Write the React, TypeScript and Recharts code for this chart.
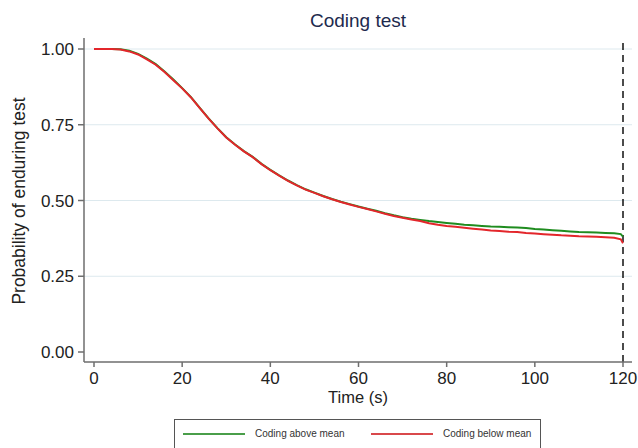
import React from "react";
import { LineChart, Line, XAxis, YAxis, ReferenceLine, Legend } from "recharts";

// Kaplan–Meier style survival estimates (time in seconds)
const timePoints = [
  0, 2, 4, 6, 8, 10, 12, 14, 16, 18, 20, 22, 24, 26, 28, 30, 32, 34, 36, 38,
  40, 42, 44, 46, 48, 50, 52, 54, 56, 58, 60, 62, 64, 66, 68, 70, 72, 74, 76, 78,
  80, 82, 84, 86, 88, 90, 92, 94, 96, 98, 100, 102, 104, 106, 108, 110, 112, 114, 116, 118,
  119.5, 120,
];

const codingAboveMean = [
  1.0, 1.0, 1.0, 0.999, 0.994, 0.984, 0.968, 0.95, 0.926, 0.899, 0.871, 0.841, 0.806, 0.771, 0.739, 0.709, 0.685, 0.663, 0.644, 0.621,
  0.601, 0.583, 0.566, 0.551, 0.537, 0.526, 0.515, 0.505, 0.496, 0.488, 0.48, 0.473, 0.466, 0.458, 0.451, 0.445, 0.44, 0.436, 0.432, 0.429,
  0.426, 0.423, 0.42, 0.418, 0.416, 0.414, 0.413, 0.412, 0.411, 0.409, 0.406, 0.404, 0.402, 0.4, 0.398, 0.396, 0.395, 0.394, 0.393, 0.392,
  0.389, 0.381,
];

const codingBelowMean = [
  1.0, 1.0, 1.0, 0.998, 0.992, 0.982, 0.966, 0.948, 0.924, 0.897, 0.87, 0.84, 0.805, 0.77, 0.738, 0.708, 0.684, 0.662, 0.643, 0.62,
  0.6, 0.582, 0.565, 0.55, 0.536, 0.525, 0.514, 0.504, 0.495, 0.487, 0.479, 0.472, 0.464, 0.456, 0.449, 0.443, 0.437, 0.432, 0.425, 0.42,
  0.416, 0.413, 0.41, 0.407, 0.404, 0.401, 0.399, 0.397, 0.396, 0.393, 0.391, 0.389, 0.387, 0.385, 0.384, 0.382, 0.381, 0.38, 0.379, 0.377,
  0.372, 0.359,
];

const xTicks = [0, 20, 40, 60, 80, 100, 120];
const yTicks = [0, 0.25, 0.5, 0.75, 1];
const gridValues = [0.25, 0.5, 0.75, 1];

const data = timePoints.map((t, i) => ({
  t,
  above: codingAboveMean[i],
  below: codingBelowMean[i],
}));

const FONT = "'Liberation Sans', Arial, Helvetica, sans-serif";
const GREEN = "#1f8c1f";
const RED = "#e3262b";
const AXIS = "#6e6e6e";

// Legend panel: open at the bottom, it continues past the figure edge
const LegendBox = () => (
  <div
    style={{
      boxSizing: "border-box",
      width: 367,
      height: 29,
      borderTop: "1px solid #555",
      borderLeft: "1px solid #555",
      borderRight: "1px solid #555",
      background: "#fff",
      fontFamily: FONT,
      fontSize: 10,
      color: "#333",
      position: "relative",
    }}
  >
    <div style={{ position: "absolute", left: 8, top: 13, width: 62, height: 2, background: "#4a9e4a" }} />
    <div style={{ position: "absolute", left: 80, top: 8, whiteSpace: "nowrap" }}>Coding above mean</div>
    <div style={{ position: "absolute", left: 196, top: 13, width: 62, height: 2, background: "#d9484b" }} />
    <div style={{ position: "absolute", left: 268, top: 8, whiteSpace: "nowrap" }}>Coding below mean</div>
  </div>
);

export default function App() {
  return (
    <div style={{ position: "absolute", left: 0, top: 0, width: 638, height: 448, background: "#fff", overflow: "hidden" }}>
      <LineChart
        width={638}
        height={448}
        data={data}
        margin={{ top: 38, right: 6, bottom: 56, left: 14 }}
      >
        {gridValues.map((v) => (
          <ReferenceLine key={v} y={v} stroke="#dde9ee" strokeWidth={1} />
        ))}
        <XAxis
          dataKey="t"
          type="number"
          domain={[0, 120]}
          ticks={xTicks}
          padding={{ left: 10, right: 9 }}
          height={30}
          stroke={AXIS}
          strokeWidth={1.5}
          tickSize={5}
          tickMargin={5}
          tick={{ fill: "#222", fontSize: 17, fontFamily: FONT }}
        />
        <YAxis
          type="number"
          domain={[0, 1]}
          ticks={yTicks}
          padding={{ top: 11, bottom: 10 }}
          width={70}
          stroke={AXIS}
          strokeWidth={1.5}
          tickSize={6}
          tickMargin={4}
          tickFormatter={(v: number) => v.toFixed(2)}
          tick={{ fill: "#222", fontSize: 17, fontFamily: FONT }}
        />
        <ReferenceLine x={120} stroke="#111" strokeWidth={1.5} strokeDasharray="7 5" />
        <Line
          type="linear"
          dataKey="above"
          name="Coding above mean"
          stroke={GREEN}
          strokeWidth={2}
          dot={false}
          isAnimationActive={false}
        />
        <Line
          type="linear"
          dataKey="below"
          name="Coding below mean"
          stroke={RED}
          strokeWidth={2}
          dot={false}
          isAnimationActive={false}
        />
        <Legend
          verticalAlign="middle"
          align="center"
          layout="horizontal"
          wrapperStyle={{ left: 174, top: 419, width: 367, height: 29 }}
          content={() => <LegendBox />}
        />
        <text x={358} y={27} textAnchor="middle" fontSize={19} fontFamily={FONT} fill="#1e2a4e">
          Coding test
        </text>
        <text x={358} y={403} textAnchor="middle" fontSize={16.5} fontFamily={FONT} fill="#222">
          Time (s)
        </text>
        <text
          x={0}
          y={0}
          transform="translate(25,201) rotate(-90)"
          textAnchor="middle"
          fontSize={17.5}
          fontFamily={FONT}
          fill="#222"
        >
          Probability of enduring test
        </text>
      </LineChart>
    </div>
  );
}
